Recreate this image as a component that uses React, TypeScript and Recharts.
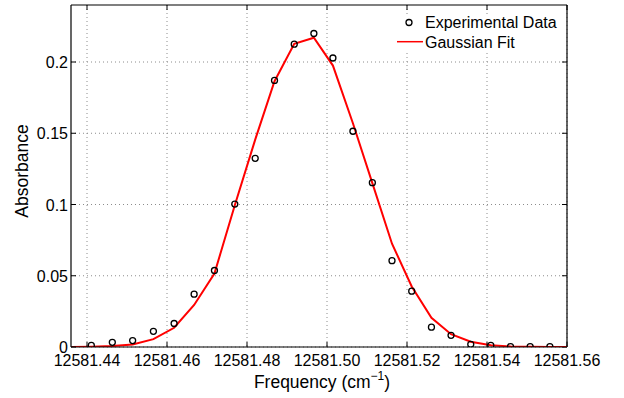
import React from 'react';
import { ComposedChart, Line, XAxis, YAxis, CartesianGrid, ReferenceLine } from 'recharts';

// Experimental data (frequency in cm^-1, absorbance)
const expFreq = [
  12581.44108, 12581.44633, 12581.45141, 12581.4566, 12581.46178, 12581.46678,
  12581.47186, 12581.47695, 12581.48205, 12581.48688, 12581.49181, 12581.49672,
  12581.50148, 12581.50648, 12581.51134, 12581.51625, 12581.52118, 12581.52611,
  12581.53101, 12581.53594, 12581.54095, 12581.54588, 12581.55079, 12581.55572,
];
const expAbs = [
  0.0012, 0.0033, 0.0045, 0.011, 0.0165, 0.0371, 0.0537, 0.1003, 0.1324, 0.1871,
  0.2125, 0.22, 0.2028, 0.1514, 0.1153, 0.0606, 0.0392, 0.0139, 0.0082, 0.0019,
  0.0012, 0.0003, 0.0003, 0.0003,
];

// Gaussian fit curve (as drawn)
const fitFreq = [
  12581.4361, 12581.44108, 12581.44633, 12581.45141, 12581.4566, 12581.46178,
  12581.46678, 12581.47186, 12581.47695, 12581.48205, 12581.48688, 12581.49181,
  12581.49672, 12581.50148, 12581.50648, 12581.51134, 12581.51625, 12581.52118,
  12581.52611, 12581.53101, 12581.53594, 12581.54095, 12581.54588, 12581.55079,
  12581.55572, 12581.56,
];
const fitAbs = [
  0.0, 0.0002, 0.0007, 0.0018, 0.0055, 0.0135, 0.0295, 0.0515, 0.0995, 0.1455,
  0.1865, 0.2128, 0.217, 0.1975, 0.157, 0.115, 0.0725, 0.0425, 0.0205, 0.009,
  0.0037, 0.0013, 0.0004, 0.0001, 0.0, 0.0,
];

const xDomain = [12581.436, 12581.56];
const yDomain = [0, 0.24];
const xTicks = [12581.44, 12581.46, 12581.48, 12581.5, 12581.52, 12581.54, 12581.56];
const yTicks = [0, 0.05, 0.1, 0.15, 0.2];
const yTickLabels = ['0', '0.05', '0.1', '0.15', '0.2'];

const seriesNames = ['Experimental Data', 'Gaussian Fit'];

const expData = expFreq.map((x, i) => ({ x, y: expAbs[i] }));
const fitData = fitFreq.map((x, i) => ({ x, y: fitAbs[i] }));

const FONT = '"Liberation Sans", Arial, Helvetica, sans-serif';

const BottomTick = (props: any) => {
  const { x, y, payload } = props;
  return (
    <g>
      <line x1={x} x2={x} y1={y} y2={y - 5} stroke="#000" strokeWidth={1} />
      <text x={x} y={y + 19} textAnchor="middle" fontSize={16} fontFamily={FONT} fill="#000">
        {Number(payload.value).toFixed(2)}
      </text>
    </g>
  );
};

const LeftTick = (props: any) => {
  const { x, y, payload } = props;
  const idx = yTicks.indexOf(payload.value);
  const label = idx >= 0 ? yTickLabels[idx] : String(payload.value);
  return (
    <g>
      <line x1={x} x2={x + 5} y1={y} y2={y} stroke="#000" strokeWidth={1} />
      <text x={x - 3} y={y + 6} textAnchor="end" fontSize={16} fontFamily={FONT} fill="#000">
        {label}
      </text>
    </g>
  );
};

// Inward tick mark on the top border, drawn at an x tick value
const TopTickMark = (props: any) => {
  const { x1, y1 } = props;
  return <line x1={x1} x2={x1} y1={y1} y2={y1 + 5} stroke="#000" strokeWidth={1} />;
};

// Inward tick mark on the right border, drawn at a y tick value
const RightTickMark = (props: any) => {
  const { x2, y1 } = props;
  return <line x1={x2} x2={x2 - 5} y1={y1} y2={y1} stroke="#000" strokeWidth={1} />;
};

const XLabel = (props: any) => {
  const vb = props.viewBox || {};
  return (
    <text
      x={vb.x + vb.width / 2 + 3}
      y={vb.y + 41}
      textAnchor="middle"
      fontSize={17.5}
      fontFamily={FONT}
      fill="#000"
    >
      Frequency (cm
      <tspan dy={-8} fontSize={12}>−1</tspan>
      <tspan dy={8}>)</tspan>
    </text>
  );
};

const YLabel = (props: any) => {
  const vb = props.viewBox || {};
  const cx = vb.x + 28;
  const cy = vb.y + vb.height / 2 - 5;
  return (
    <text
      x={cx}
      y={cy}
      transform={`rotate(-90, ${cx}, ${cy})`}
      textAnchor="middle"
      fontSize={17.5}
      fontFamily={FONT}
      fill="#000"
    >
      Absorbance
    </text>
  );
};

export default function App() {
  return (
    <div style={{ position: 'absolute', left: 0, top: 0, width: 624, height: 398, background: '#fff' }}>
      <ComposedChart
        width={624}
        height={398}
        margin={{ top: 5, right: 57, bottom: 0, left: 0 }}
      >
        <CartesianGrid
          stroke="#8c8c8c"
          strokeDasharray="1 3"
          strokeWidth={1}
          horizontalValues={yTicks}
          verticalValues={xTicks}
        />
        <XAxis
          dataKey="x"
          type="number"
          domain={xDomain}
          allowDataOverflow
          ticks={xTicks}
          interval={0}
          height={51}
          tickSize={0}
          tickMargin={0}
          tickLine={false}
          tick={<BottomTick />}
          axisLine={{ stroke: '#000', strokeWidth: 1.2 }}
          label={{ content: <XLabel /> }}
        />
        <YAxis
          type="number"
          domain={yDomain}
          allowDataOverflow
          ticks={yTicks}
          interval={0}
          width={71}
          tickSize={0}
          tickMargin={0}
          tickLine={false}
          tick={<LeftTick />}
          axisLine={{ stroke: '#000', strokeWidth: 1.2 }}
          label={{ content: <YLabel /> }}
        />
        {/* box: top and right borders */}
        <ReferenceLine y={yDomain[1]} stroke="#000" strokeWidth={1.2} ifOverflow="visible" />
        <ReferenceLine x={xDomain[1]} stroke="#000" strokeWidth={1.2} ifOverflow="visible" />
        {/* inward tick marks on the top border */}
        {xTicks.map((t) => (
          <ReferenceLine
            key={'tt' + t}
            segment={[{ x: t, y: yDomain[1] }, { x: t, y: yDomain[1] }]}
            ifOverflow="visible"
            shape={<TopTickMark />}
          />
        ))}
        {/* inward tick marks on the right border */}
        {yTicks.map((t) => (
          <ReferenceLine
            key={'rt' + t}
            segment={[{ x: xDomain[1], y: t }, { x: xDomain[1], y: t }]}
            ifOverflow="visible"
            shape={<RightTickMark />}
          />
        ))}
        <Line
          data={expData}
          dataKey="y"
          name={seriesNames[0]}
          stroke="none"
          strokeWidth={0}
          dot={{ r: 3, stroke: '#000', strokeWidth: 1.3, fill: 'none' }}
          activeDot={false}
          isAnimationActive={false}
        />
        <Line
          data={fitData}
          dataKey="y"
          name={seriesNames[1]}
          type="linear"
          stroke="#ff0000"
          strokeWidth={2}
          dot={false}
          activeDot={false}
          isAnimationActive={false}
        />
      </ComposedChart>
      <div
        style={{
          position: 'absolute',
          left: 392,
          top: 14,
          width: 172,
          height: 37,
          background: '#fff',
          fontFamily: FONT,
          fontSize: 16,
          color: '#000',
        }}
      >
        <svg width={172} height={37} style={{ position: 'absolute', left: 0, top: 0 }}>
          <circle cx={17} cy={8.5} r={3} stroke="#000" strokeWidth={1.3} fill="none" />
          <line x1={5} x2={31} y1={27.7} y2={27.7} stroke="#ff0000" strokeWidth={1.5} />
          <text x={33} y={14.3} fontSize={16} fontFamily={FONT} fill="#000">{seriesNames[0]}</text>
          <text x={33} y={33.5} fontSize={16} fontFamily={FONT} fill="#000">{seriesNames[1]}</text>
        </svg>
      </div>
    </div>
  );
}
